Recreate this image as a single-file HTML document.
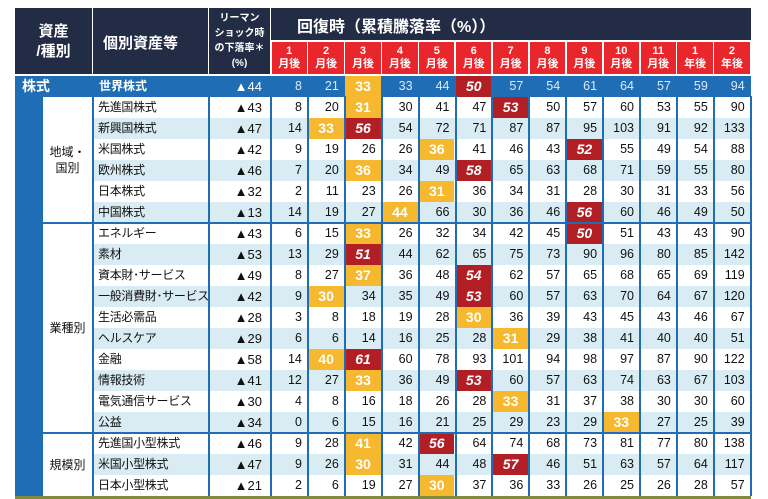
<!DOCTYPE html>
<html><head><meta charset="utf-8"><style>
body{margin:0;width:768px;height:499px;background:#fff;overflow:hidden;font-family:"Liberation Sans","Noto Sans CJK JP",sans-serif;}
#t{position:absolute;left:0;top:0;width:768px;height:499px;}
.c{position:absolute;box-sizing:border-box;font-size:12px;color:#111;white-space:nowrap;}
</style></head><body>
<div id="t"></div>
<script>
const names=["先進国株式","新興国株式","米国株式","欧州株式","日本株式","中国株式","エネルギー","素材","資本財･サービス","一般消費財･サービス","生活必需品","ヘルスケア","金融","情報技術","電気通信サービス","公益","先進国小型株式","米国小型株式","日本小型株式"];
const worldDrop=44;
const drops=[43,47,42,46,32,13,43,53,49,42,28,29,58,41,30,34,46,47,21];
const world=[8,21,33,33,44,50,57,54,61,64,57,59,94];
const values=[
[8,20,31,30,41,47,53,50,57,60,53,55,90],
[14,33,56,54,72,71,87,87,95,103,91,92,133],
[9,19,26,26,36,41,46,43,52,55,49,54,88],
[7,20,36,34,49,58,65,63,68,71,59,55,80],
[2,11,23,26,31,36,34,31,28,30,31,33,56],
[14,19,27,44,66,30,36,46,56,60,46,49,50],
[6,15,33,26,32,34,42,45,50,51,43,43,90],
[13,29,51,44,62,65,75,73,90,96,80,85,142],
[8,27,37,36,48,54,62,57,65,68,65,69,119],
[9,30,34,35,49,53,60,57,63,70,64,67,120],
[3,8,18,19,28,30,36,39,43,45,43,46,67],
[6,6,14,16,25,28,31,29,38,41,40,40,51],
[14,40,61,60,78,93,101,94,98,97,87,90,122],
[12,27,33,36,49,53,60,57,63,74,63,67,103],
[4,8,16,18,26,28,33,31,37,38,30,30,60],
[0,6,15,16,21,25,29,23,29,33,27,25,39],
[9,28,41,42,56,64,74,68,73,81,77,80,138],
[9,26,30,31,44,48,57,46,51,63,57,64,117],
[2,6,19,27,30,37,36,33,26,25,26,28,57]];
const worldHi=[2,5];
const hi=[[2,6],[1,2],[4,8],[2,5],[4,-1],[3,8],[2,8],[-1,2],[2,5],[1,5],[5,-1],[6,-1],[1,2],[2,5],[6,-1],[9,-1],[2,4],[2,6],[4,-1]];
const periods=["1|月後","2|月後","3|月後","4|月後","5|月後","6|月後","7|月後","8|月後","9|月後","10|月後","11|月後","1|年後","2|年後"];
const groups=[["地域・\n国別",0,6],["業種別",6,16],["規模別",16,19]];

const T=document.getElementById('t');
function box(x,y,w,h,css,txt,name){const d=document.createElement('div');d.className='c';d.style.cssText+=`left:${x}px;top:${y}px;width:${w}px;height:${h}px;`+css;if(txt!==undefined)d.innerHTML=txt;


T.appendChild(d);return d;}
const NAVY='#232c45',RED='#e8262b',BLUE='#1f6db5',LB='#d9ecf3',YEL='#f5b82e',DR='#b11f25';
const X0=271,CW=36.9,TOP=8,RH=21,R0=97;
const colX=i=>X0+i*CW;
box(15,TOP,77,66,`background:${NAVY};color:#fff;font-weight:bold;font-size:15px;text-align:center;padding-top:14px;line-height:20px;`,"資産<br>/種別","header-asset-type");
box(93,TOP,115,66,`background:${NAVY};color:#fff;font-weight:bold;font-size:15px;padding:24px 0 0 10px;`,"個別資産等","header-asset");
box(209,TOP,61,66,`background:${NAVY};color:#fff;font-weight:bold;font-size:10px;text-align:center;padding-top:3px;line-height:15px;`,"リーマン<br>ショック時<br>の下落率＊<br>(%)","header-drop");
box(271,TOP,480,32,`background:${NAVY};color:#fff;font-weight:bold;font-size:16px;padding:5px 0 0 26px;`,"回復時（累積騰落率（%））","header-recovery");
periods.forEach((p,i)=>{const [a,b]=p.split('|');box(colX(i)+0.5,42,CW-1.5,32,`background:${RED};color:#fff;font-weight:bold;font-size:11px;text-align:center;line-height:13px;padding-top:3px;`,a+"<br>"+b,"period-header-"+(i+1));});
const WY=76;
box(15,WY,736,21,`background:${BLUE};`,"","world-row-bg");
box(22,WY,60,21,`color:#fff;font-weight:bold;font-size:14px;line-height:21px;`,"株式","stock-label");
box(99,WY,100,21,`color:#fff;font-weight:bold;line-height:21px;`,"世界株式","world-stock-name");
box(209,WY,58,21,`color:#fff;text-align:right;padding-right:5px;line-height:21px;font-size:13px;`,"▲"+worldDrop,"world-drop");
world.forEach((v,i)=>{let css=`color:#dde8f5;text-align:right;padding-right:5px;line-height:21px;font-size:12.5px;`;
if(i===worldHi[0])css=`background:${YEL};color:#fff;font-weight:bold;text-align:center;font-size:14px;line-height:21px;`;
if(i===worldHi[1])css=`background:${DR};color:#fff;font-weight:bold;font-style:italic;text-align:center;font-size:14px;line-height:21px;`;
box(colX(i)+0.5,WY,CW-1.5,21,css,v,"world-value-"+(i+1));});
box(15,R0,28,RH*19,`background:${BLUE};`,"","left-strip");
names.forEach((n,r)=>{const y=R0+r*RH;let gi=groups.findIndex(g=>r>=g[1]&&r<g[2]);const stripe=((r-groups[gi][1])%2===1);
const bg=stripe?LB:'#fff';
box(93,y,658,RH,`background:${bg};`,"","row-bg-"+r);
box(98,y,110,RH,`line-height:21px;font-size:12px;letter-spacing:-0.3px;`,n,"asset-name-"+r);
box(209,y,58,RH,`text-align:right;padding-right:5px;line-height:21px;font-size:13px;`,"▲"+drops[r],"drop-"+r);
values[r].forEach((v,i)=>{let css=`text-align:right;padding-right:5px;line-height:21px;font-size:12.5px;`;
if(i===hi[r][0])css=`background:${YEL};color:#fff;font-weight:bold;text-align:center;font-size:14px;line-height:21px;`;
if(i===hi[r][1])css=`background:${DR};color:#fff;font-weight:bold;font-style:italic;text-align:center;font-size:14px;line-height:21px;`;
box(colX(i)+0.5,y,CW-1.5,RH,css,v,"value-"+r+"-"+(i+1));});});
groups.forEach((g,k)=>{const y=R0+g[1]*RH,h=(g[2]-g[1])*RH;
box(43,y,49,h,`display:flex;align-items:center;justify-content:center;text-align:center;font-size:12px;line-height:16px;white-space:pre;`,g[0],"group-label-"+k);
if(k>0)box(43,y-1,708,2,`background:${BLUE};`,"","group-divider-"+k);});
[92,208,270].concat(periods.map((p,i)=>colX(i+1)-0.5)).forEach((x,i)=>{box(x-0.5,R0-1,2,RH*19+1,`background:${BLUE};`,"","vline-"+i);});
box(15,496,736,3,`background:#7f8a3a;`,"","bottom-rule");
</script>
</body></html>
